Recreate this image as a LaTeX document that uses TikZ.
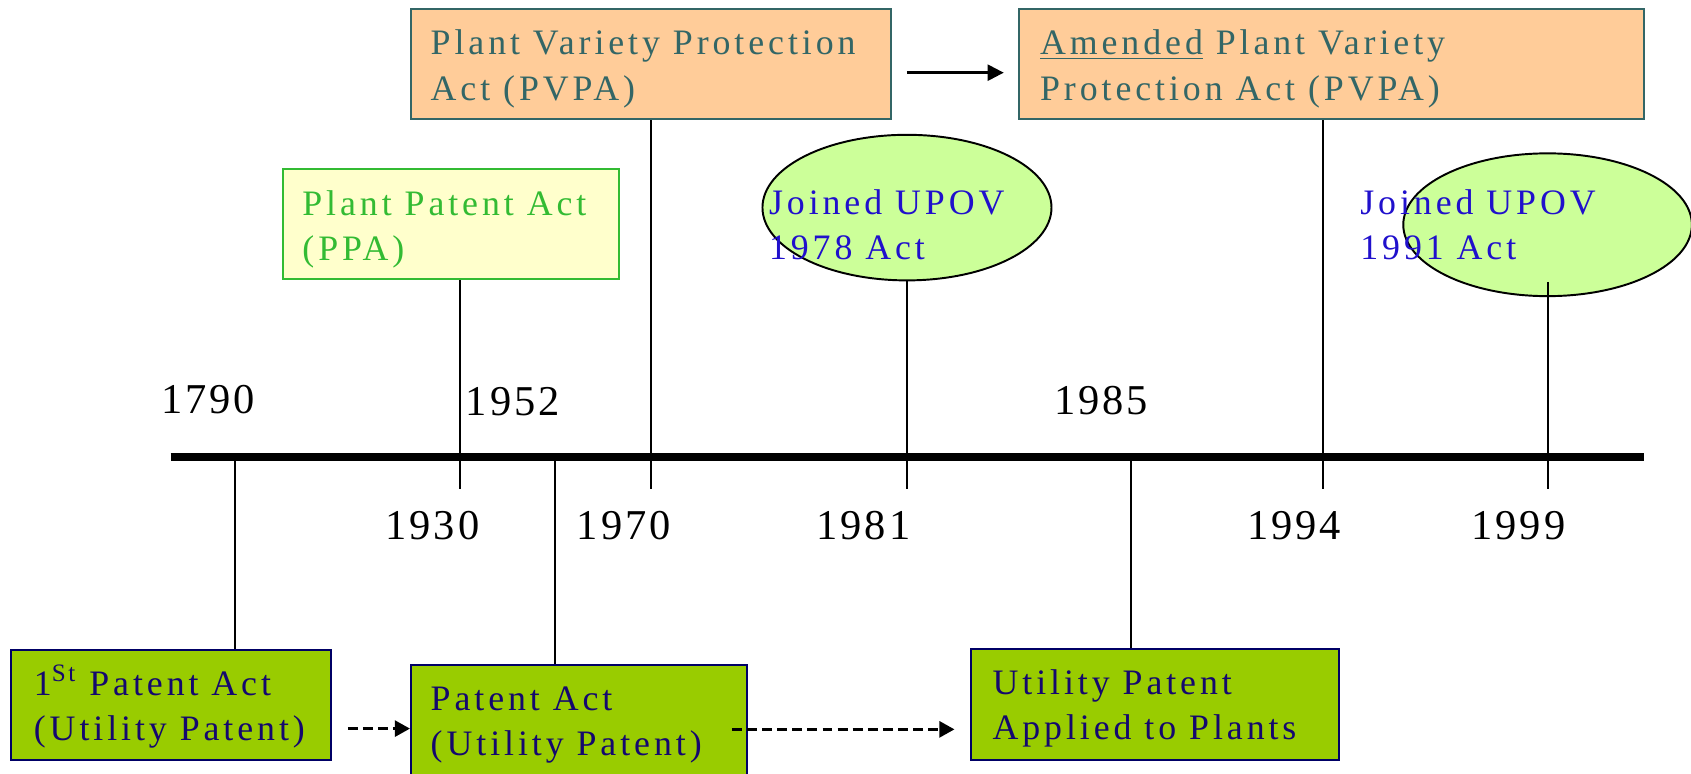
\documentclass[tikz,border=0pt]{standalone}
\usepackage{fontspec}
\setmainfont{Liberation Serif}[LetterSpace=11]
\newfontfamily\yearfont{Liberation Serif}[LetterSpace=7]
\usetikzlibrary{arrows.meta,shapes.geometric}
\definecolor{peach}{HTML}{FFCC99}
\definecolor{slate}{HTML}{336666}
\definecolor{paleyellow}{HTML}{FFFFCC}
\definecolor{ppagreen}{HTML}{33BB33}
\definecolor{palegreen}{HTML}{CCFF99}
\definecolor{upovblue}{HTML}{2010CC}
\definecolor{leaf}{HTML}{99CC00}
\definecolor{deepnavy}{HTML}{000066}
\definecolor{inkblue}{HTML}{14086E}
\newcommand\twoline[2]{\vtop{\hbox{#1}\hbox{#2}}}
\begin{document}
\begin{tikzpicture}[x=0.5pt,y=-0.5pt,
  boxtext/.style={inner sep=0pt, anchor=base west, font=\fontsize{16.6}{21}\selectfont},
  yeartext/.style={inner sep=0pt, anchor=base west, font=\yearfont\fontsize{19.7}{23}\selectfont},
  pvpabox/.style={rectangle, draw=slate, fill=peach, line width=0.9pt, inner sep=0pt},
  ppabox/.style={rectangle, draw=ppagreen, fill=paleyellow, line width=0.9pt, inner sep=0pt},
  patbox/.style={rectangle, draw=deepnavy, fill=leaf, line width=0.9pt, inner sep=0pt},
  upov/.style={ellipse, draw=black, fill=palegreen, line width=0.9pt, inner sep=0pt},
  stem/.style={draw=black, line width=0.8pt},
  timeline/.style={draw=black, line width=3.8pt},
  solidarrow/.style={draw=black, line width=1.1pt, -{Triangle[length=7.5pt,width=7.5pt]}},
  dasharrow/.style={draw=black, line width=1.1pt, dash pattern=on 4.6pt off 2.4pt, -{Triangle[length=7pt,width=7.5pt]}}
]
\useasboundingbox (0,0) rectangle (1568,717);
\clip (0,0) rectangle (1568,717);

% boxes
\node[pvpabox, minimum width=222.75pt, minimum height=51.2pt] (pvpa) at (603.75,59.5) {};
\node[pvpabox, minimum width=289.55pt, minimum height=51.2pt] (amended) at (1234.85,59.5) {};
\node[ppabox, minimum width=156pt, minimum height=51pt] (ppa) at (418,208) {};
\node[patbox, minimum width=148.4pt, minimum height=51.05pt] (box1) at (158.6,653.35) {};
\node[patbox, minimum width=155.8pt, minimum height=51pt] (box2) at (536.8,668) {};
\node[patbox, minimum width=170.75pt, minimum height=51.2pt] (box3) at (1071.25,653.2) {};
\node[upov, minimum width=134pt, minimum height=67.5pt] (ell1) at (841,192.5) {};
\node[upov, minimum width=133.8pt, minimum height=66.2pt] (ell2) at (1435,208.4) {};

% box texts
\node[boxtext, text=slate] (pvpatext) at (399,51) {\twoline{Plant Variety Protection}{Act (PVPA)}};
\node[boxtext, text=slate] (amendedtext) at (964,51) {\twoline{\underline{Amended} Plant Variety}{Protection Act (PVPA)}};
\node[boxtext, text=ppagreen] (ppatext) at (280,199.4) {\twoline{Plant Patent Act}{(PPA)}};
\node[boxtext, text=upovblue] (ell1text) at (712.7,198.8) {\twoline{Joined UPOV}{1978 Act}};
\node[boxtext, text=upovblue] (ell2text) at (1261,198.5) {\twoline{Joined UPOV}{1991 Act}};
\node[boxtext, text=inkblue] (box1text) at (31,644.7) {\twoline{1\textsuperscript{St} Patent Act}{(Utility Patent)}};
\node[boxtext, text=inkblue] (box2text) at (399,659) {\twoline{Patent Act}{(Utility Patent)}};
\node[boxtext, text=inkblue] (box3text) at (920,643.8) {\twoline{Utility Patent}{Applied to Plants}};

% stems
\coordinate (t1790) at (218,424);
\draw[stem] (t1790) -- (t1790 |- box1.north);
\coordinate (t1930) at (426.5,453);
\draw[stem] (t1930 |- ppa.south) -- (t1930);
\coordinate (t1952) at (514.5,424);
\draw[stem] (t1952) -- (t1952 |- box2.north);
\coordinate (t1970) at (603.7,453);
\draw[stem] (pvpa.south) -- (pvpa.south |- t1970);
\coordinate (t1981) at (841,453);
\draw[stem] (ell1.south) -- (t1981);
\coordinate (t1985) at (1049,424);
\draw[stem] (t1985) -- (t1985 |- box3.north);
\coordinate (t1994) at (1227,453);
\draw[stem] (t1994 |- amended.south) -- (t1994);
\coordinate (e2in) at (1435.2,261.3);
\coordinate (t1999) at (1435.2,453);
\draw[stem] (e2in) -- (t1999);

% timeline
\coordinate (tlL) at (158.3,424);
\coordinate (tlR) at (1524,424);
\draw[timeline] (tlL) -- (tlR);

% years
\node[yeartext] (y1790) at (149,383) {1790};
\node[yeartext] (y1952) at (431.5,385) {1952};
\node[yeartext] (y1985) at (977,384) {1985};
\node[yeartext] (y1930) at (357,500) {1930};
\node[yeartext] (y1970) at (534.5,500) {1970};
\node[yeartext] (y1981) at (756.6,500) {1981};
\node[yeartext] (y1994) at (1156,500) {1994};
\node[yeartext] (y1999) at (1364,500) {1999};

% arrows
\coordinate (a1) at (841,67.4);
\coordinate (a2) at (930.7,67.4);
\draw[solidarrow] (a1) -- (a2);
\coordinate (d1) at (322.5,675.6);
\draw[dasharrow] (d1) -- (box2.west |- d1);
\coordinate (d2) at (678.7,676.3);
\coordinate (d3) at (885,676.3);
\draw[dasharrow] (d2) -- (d3);
\end{tikzpicture}
\end{document}
